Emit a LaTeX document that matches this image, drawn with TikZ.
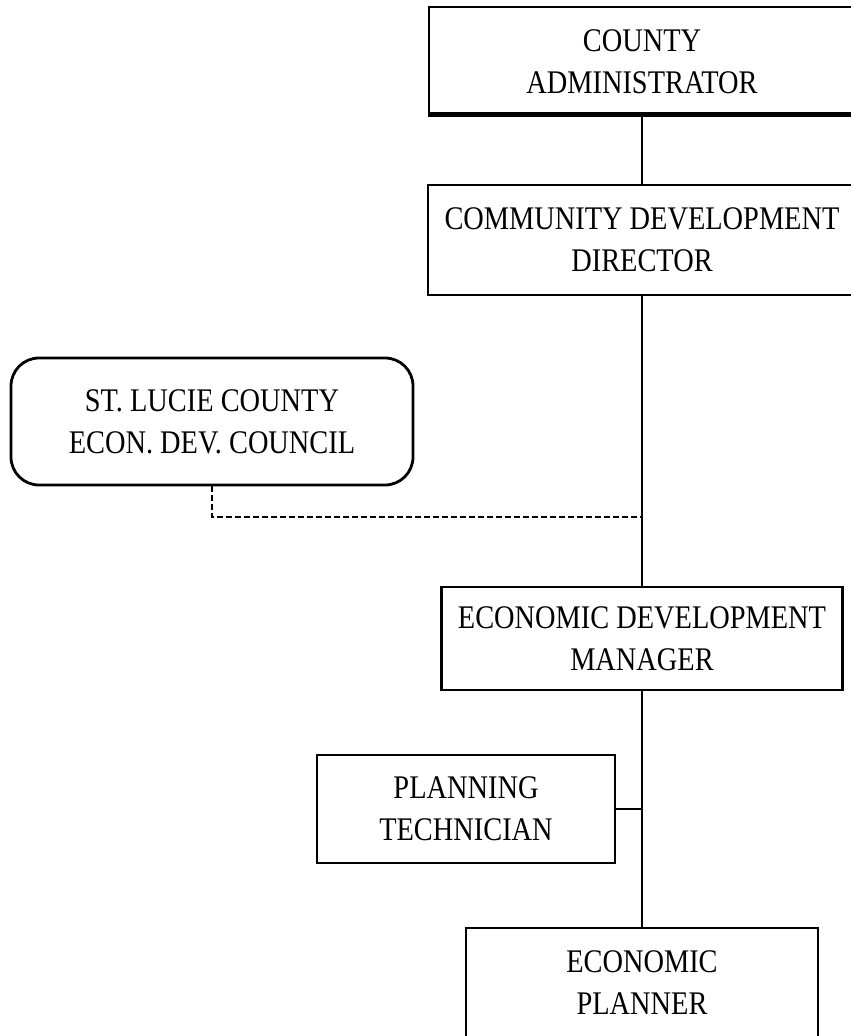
\documentclass[tikz,border=0pt]{standalone}
\usepackage{fontspec}
\newfontfamily\orgfont[FakeStretch=0.86]{Liberation Serif}
\begin{document}
\begin{tikzpicture}[x=1pt,y=-1pt,
  orgbox/.style={draw, line width=2.8pt, rectangle, inner sep=0pt, align=center,
    font=\orgfont\fontsize{33}{42}\selectfont},
  link/.style={line width=2.8pt},
  dotlink/.style={line width=2.4pt, dash pattern=on 6pt off 3pt}]
\useasboundingbox (0,0) rectangle (851,1036);
\clip (0,0) rectangle (851,1036);

% boxes of the chart
\node[orgbox, minimum width=426pt, minimum height=109pt] (admin) at (642,61.5) {COUNTY\\ADMINISTRATOR};
\fill ([xshift=2pt]admin.south west) rectangle ([yshift=5.5pt]admin.south east);
\node[orgbox, minimum width=428pt, minimum height=110pt] (dir) at (642,240) {COMMUNITY DEVELOPMENT\\DIRECTOR};
\node[orgbox, rounded corners=28pt, minimum width=402pt, minimum height=127pt] (council) at (212,421.5) {ST. LUCIE COUNTY\\ECON. DEV. COUNCIL};
\node[orgbox, minimum width=401pt, minimum height=103pt] (mgr) at (642,638.5) {ECONOMIC DEVELOPMENT\\MANAGER};
\node[orgbox, minimum width=298pt, minimum height=108pt] (tech) at (466,809) {PLANNING\\TECHNICIAN};
\node[orgbox, minimum width=352pt, minimum height=110pt] (plan) at (642,983) {ECONOMIC\\PLANNER};

% connectors
\coordinate (adv) at (642,517);
\draw[link] ([yshift=5.5pt]admin.south) -- (dir.north);
\draw[link] (dir.south) -- (mgr.north);
\draw[link] (mgr.south) -- (plan.north);
\draw[link] (tech.east) -- (tech.east -| mgr.south);
\draw[dotlink] (council.south) |- (adv);
\end{tikzpicture}
\end{document}
